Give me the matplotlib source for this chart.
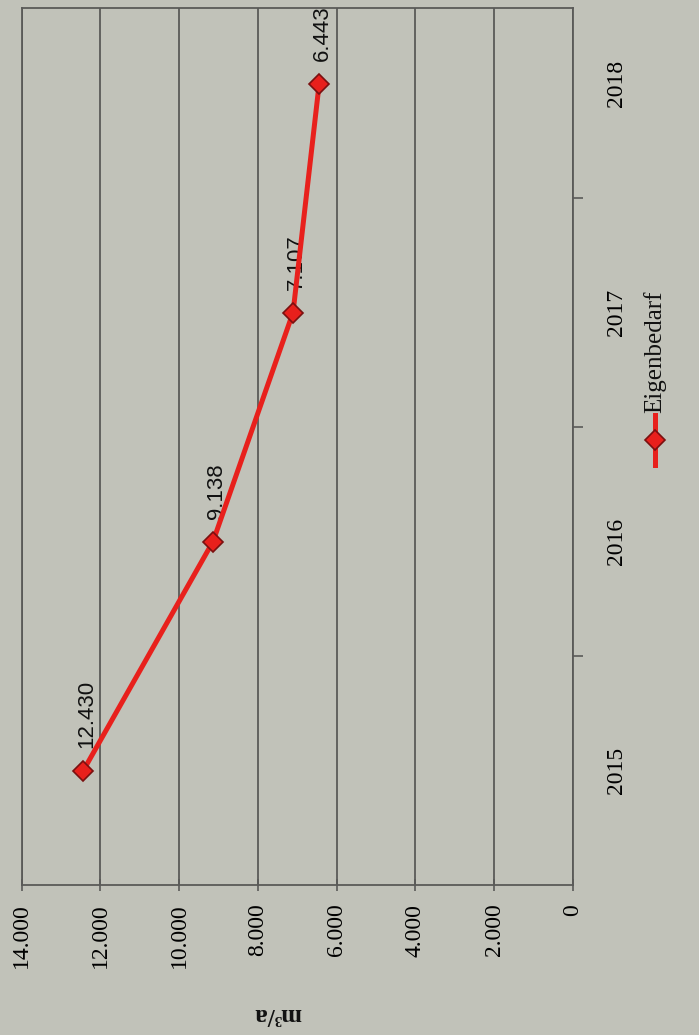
import matplotlib
matplotlib.use("Agg")
import matplotlib.pyplot as plt
from matplotlib.lines import Line2D
from matplotlib.ticker import FixedLocator

years = ["2015", "2016", "2017", "2018"]
eigenbedarf = [12430, 9138, 7107, 6443]
value_ticks = [0, 2000, 4000, 6000, 8000, 10000, 12000, 14000]
series_name = "Eigenbedarf"
axis_title = "m³/a"

def de_fmt(v):
    return f"{v:,}".replace(",", ".")

SERIF = ["Liberation Serif", "DejaVu Serif"]
SANS = ["Liberation Sans", "DejaVu Sans"]
BG = "#c1c2b9"
GRID = "#5a5a58"
RED = "#e8201c"
W, H = 699, 1035

fig = plt.figure(figsize=(W / 100, H / 100), dpi=100, facecolor=BG)
ax_l, ax_r, ax_t, ax_b = 21.5, 573, 8, 885
ax = fig.add_axes([ax_l / W, 1 - ax_b / H, (ax_r - ax_l) / W, (ax_b - ax_t) / H])
ax.set_facecolor(BG)

pos = list(range(1, len(years) + 1))
ax.set_xlim(14000, 0)
ax.set_ylim(0.5, 0.5 + (ax_b - ax_t) / 229.0)

for s in ax.spines.values():
    s.set_color(GRID)
    s.set_linewidth(1.3)

ax.set_xticks(value_ticks)
ax.set_xticklabels([de_fmt(v) for v in value_ticks], rotation=90,
                   family=SERIF, fontsize=17)
ax.tick_params(axis="x", direction="inout", length=9, width=1.2, color=GRID, pad=9)
ax.grid(axis="x", color=GRID, linewidth=1.3)

ax.yaxis.tick_right()
ax.set_yticks(pos)
ax.set_yticklabels(years, rotation=90, family=SERIF, fontsize=17, va="center")
ax.tick_params(axis="y", which="major", length=0, pad=24)
ax.yaxis.set_minor_locator(FixedLocator([p + 0.5 for p in pos[:-1]]))
ax.tick_params(axis="y", which="minor", length=7, width=1.2, color=GRID,
               direction="out", right=True, left=False)

ax.plot(eigenbedarf, pos, color=RED, linewidth=3.6, marker="D", markersize=10,
        markerfacecolor=RED, markeredgecolor="#7a1010", markeredgewidth=1.2,
        zorder=5, clip_on=False)

for v, p in zip(eigenbedarf, pos):
    ax.annotate(de_fmt(v), (v, p), xytext=(3, 23), textcoords="offset pixels",
                rotation=90, ha="center", va="bottom", fontsize=16,
                family=SANS, color="#111111")

# axis title (rotated with the scanned page)
fig.text(277 / W, 1 - 1015 / H, axis_title, rotation=180, ha="center", va="center",
         family=SERIF, fontweight="bold", fontsize=18, color="#111111")

# legend
lx = 655 / W
fig.add_artist(Line2D([lx, lx], [1 - 465 / H, 1 - 415 / H], color=RED, linewidth=3.6,
                      transform=fig.transFigure))
fig.add_artist(Line2D([lx], [1 - 440 / H], marker="D", markersize=10, color=RED,
                      markeredgecolor="#7a1010", markeredgewidth=1.2,
                      transform=fig.transFigure))
fig.text(lx, 1 - 413 / H, series_name, rotation=90, ha="center", va="bottom",
         family=SERIF, fontsize=18, color="#111111")

fig.savefig("out.png", dpi=100, facecolor=BG)
